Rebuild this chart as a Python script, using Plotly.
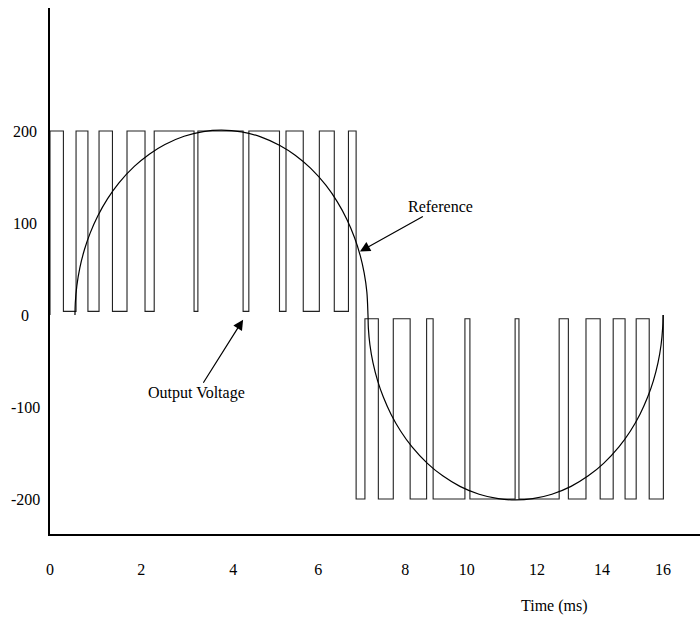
import plotly.graph_objects as go

# PWM output voltage: switching instants (ms) and the level held from each instant
switch_ms = [0.0, 0.0, 0.35, 0.68, 0.99, 1.28, 1.63, 2.01, 2.48, 2.72, 3.76, 3.86,
             5.04, 5.19, 5.99, 6.16, 6.61, 7.03, 7.42, 7.79, 7.99, 8.22, 8.57,
             8.96, 9.40, 9.83, 10.00, 10.83, 10.96, 12.14, 12.24, 13.29, 13.53,
             13.99, 14.36, 14.70, 15.01, 15.30, 15.64, 16.01]
level_v = [0, 200, 4, 200, 4, 200, 4, 200, 4, 200, 4, 200,
           4, 200, 4, 200, 4, 200, 4, 200, -200, -4, -200,
           -4, -200, -4, -200, -4, -200, -4, -200, -4, -200,
           -4, -200, -4, -200, -4, -200, 0]

# Reference waveform samples (ms, V)
ref_ms = [0.652, 0.66, 0.70, 0.78, 0.90, 1.05, 1.25, 1.5, 1.8, 2.2, 2.6, 3.0,
          3.5, 4.0, 4.476, 5.0, 5.5, 6.0, 6.4, 6.8, 7.2, 7.5, 7.75, 7.95,
          8.1, 8.2, 8.27, 8.30,
          8.31, 8.35, 8.43, 8.55, 8.70, 8.90, 9.15, 9.45, 9.85, 10.25, 10.7,
          11.2, 11.7, 12.15, 12.6, 13.1, 13.6, 14.05, 14.45, 14.85, 15.15,
          15.4, 15.6, 15.75, 15.87, 15.95, 15.99, 16.0]
ref_v = [0, 13.0, 31.7, 51.6, 71.2, 89.3, 107.9, 126.2, 143.6, 161.5, 175.1, 185.4,
         194.3, 199.4, 201, 199.1, 193.7, 184.3, 173.7, 159.6, 141.1, 123.0, 103.9, 84.0,
         64.2, 45.7, 25.1, 0,
         -14.5, -32.3, -51.8, -71.3, -89.2, -107.8, -126.0, -143.3, -161.2, -174.8, -186.2,
         -194.8, -199.6, -201, -199.6, -194.8, -186.2, -174.8, -161.2, -143.3, -126.0,
         -107.8, -89.2, -71.3, -51.8, -32.3, -14.5, 0]

x_tick_text = ["0", "2", "4", "6", "8", "10", "12", "14", "16"]
x_tick_pos = [0.0, 2.38, 4.78, 7.0, 9.27, 10.88, 12.71, 14.41, 16.0]
y_tick_vals = [200, 100, 0, -100, -200]
y_tick_text = ["200", "100", "0", "-100", "-200"]

FONT = "Liberation Serif"
PLOT_W = 650  # width of the plotting area in px

fig = go.Figure()
fig.add_trace(go.Scatter(
    x=switch_ms, y=level_v, mode="lines", line_shape="hv",
    line=dict(color="#222222", width=1.1), name="Output Voltage",
    showlegend=False, hoverinfo="skip"))
fig.add_trace(go.Scatter(
    x=ref_ms, y=ref_v, mode="lines", line_shape="spline",
    line=dict(color="#000000", width=1.2, smoothing=1.0), name="Reference",
    showlegend=False, hoverinfo="skip"))

fig.add_annotation(x=5.04, y=-5, ax=3.83, ay=-85, xref="x", yref="y",
                   axref="x", ayref="y", text="Output Voltage",
                   showarrow=True, arrowhead=2, arrowsize=1.7, arrowwidth=1.2,
                   arrowcolor="black", font=dict(family=FONT, size=16, color="black"))
fig.add_annotation(x=8.09, y=69, ax=10.2, ay=118, xref="x", yref="y",
                   axref="x", ayref="y", text="Reference",
                   showarrow=True, arrowhead=2, arrowsize=1.7, arrowwidth=1.2,
                   arrowcolor="black", font=dict(family=FONT, size=16, color="black"))
fig.add_annotation(x=(590 - 50) / PLOT_W, y=-0.158, xref="paper", yref="paper",
                   text="Time (ms)", showarrow=False,
                   font=dict(family=FONT, size=16, color="black"))

# y labels are centred in the left margin
for val, txt in zip(y_tick_vals, y_tick_text):
    fig.add_annotation(x=(25 - 50) / PLOT_W, y=val, xref="paper", yref="y",
                       text=txt, showarrow=False, xanchor="center", yanchor="middle",
                       font=dict(family=FONT, size=16, color="black"))

fig.update_xaxes(range=[0, PLOT_W / 38.3125], showgrid=False, zeroline=False,
                 showline=True, linecolor="black", linewidth=1.5,
                 tickmode="array", tickvals=x_tick_pos, ticktext=x_tick_text,
                 ticks="", ticklabelstandoff=20,
                 tickfont=dict(family=FONT, size=16, color="black"))
fig.update_yaxes(range=[-238, 333.7], showgrid=False, zeroline=False,
                 showline=True, linecolor="black", linewidth=1.5,
                 showticklabels=False, ticks="")

fig.update_layout(width=700, height=639, margin=dict(l=50, r=0, t=8, b=105),
                  paper_bgcolor="white", plot_bgcolor="white",
                  font=dict(family=FONT, size=16, color="black"))

fig.write_html("out.html")
